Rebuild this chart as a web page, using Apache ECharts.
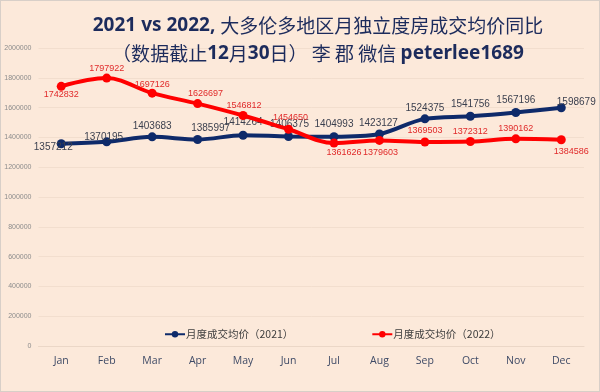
<!DOCTYPE html>
<html>
<head>
<meta charset="utf-8">
<script src="https://cdn.jsdelivr.net/npm/echarts@6/dist/echarts.min.js"></script>
<style>
html,body{margin:0;padding:0;background:#FCE9DA;}
#c{width:600px;height:392px;box-sizing:border-box;border:1px solid #D8CFC8;}
</style>
</head>
<body>
<div id="c"></div>
<script>
var months = ['Jan','Feb','Mar','Apr','May','Jun','Jul','Aug','Sep','Oct','Nov','Dec'];
var values2021 = [1357212,1370195,1403683,1385997,1414264,1406375,1404993,1423127,1524375,1541756,1567196,1598679];
var values2022 = [1742832,1797922,1697126,1626697,1546812,1454650,1361626,1379603,1369503,1372312,1390162,1384586];
var name2021 = '月度成交均价（2021）';
var name2022 = '月度成交均价（2022）';

// label placement offsets (style only)
var off2021 = [[-8,3],[-3,-5],[0,-11],[13,-11],[0,-13],[1,-12],[0,-12],[-1,-11],[0,-11],[0,-12],[0,-12],[15,-6]];
var off2022 = [[0,8],[0,-10],[0,-9],[8,-10],[1,-10],[2,-12],[10,9],[1,12],[0,-11],[0,-10],[0,-10],[10,12]];

function buildData(vals, offs) {
  return vals.map(function (v, i) {
    return { value: v, label: { offset: offs[i] } };
  });
}

var chart = echarts.init(document.getElementById('c'));
var navy = '#0E2A6A';
var red = '#FF0000';
var option = {
  backgroundColor: '#FCE9DA',
  animation: false,
  title: {
    left: 312,
    top: 6,
    textAlign: 'center',
    text: '{b|2021 vs 2022, }{n|大多伦多地区月独立度房成交均价同比}\n{n|（数据截止}{b|12}{n|月}{b|30}{n|日） 李 郡 微信 }{b|peterlee1689}',
    textStyle: {
      lineHeight: 28,
      rich: {
        b: { fontFamily: 'Noto Sans', fontWeight: 'bold', fontSize: 19, color: '#1C2B5C', lineHeight: 28 },
        n: { fontFamily: 'Noto Sans CJK SC', fontWeight: 'normal', fontSize: 19, color: '#1C2B5C', lineHeight: 28 }
      }
    }
  },
  legend: {
    left: 158,
    top: 323,
    itemWidth: 20,
    itemHeight: 8,
    itemGap: 78,
    textStyle: { fontSize: 10.5, color: '#404040', fontFamily: 'Noto Sans CJK SC', padding: [0, 0, 0, -4] },
    data: [name2021, name2022]
  },
  grid: { left: 37.5, right: 15, top: 47, bottom: 45 },
  xAxis: {
    type: 'category',
    data: months,
    boundaryGap: true,
    axisLine: { lineStyle: { color: '#EBD7C7' } },
    axisTick: { show: false },
    axisLabel: { fontSize: 10.5, color: '#3E4A66', margin: 10, fontFamily: 'Open Sans' }
  },
  yAxis: {
    type: 'value',
    min: 0,
    max: 2000000,
    interval: 200000,
    axisLine: { show: false },
    axisTick: { show: false },
    axisLabel: { fontSize: 7, color: '#8C8C8C', margin: 7, formatter: function (v) { return String(v); } },
    splitLine: { lineStyle: { color: '#F2DECE' } }
  },
  series: [
    {
      name: name2021,
      type: 'line',
      smooth: 0.35,
      data: buildData(values2021, off2021),
      symbol: 'circle',
      symbolSize: 9,
      itemStyle: { color: navy },
      lineStyle: { color: navy, width: 4 },
      label: {
        show: true,
        position: 'inside',
        fontSize: 10,
        color: '#3A3F4E',
        fontFamily: 'Liberation Sans'
      },
      z: 3
    },
    {
      name: name2022,
      type: 'line',
      smooth: 0.35,
      data: buildData(values2022, off2022),
      symbol: 'circle',
      symbolSize: 9,
      itemStyle: { color: red },
      lineStyle: { color: red, width: 4 },
      label: {
        show: true,
        position: 'inside',
        fontSize: 9,
        color: '#E02A2A',
        fontFamily: 'Liberation Sans'
      },
      z: 4
    }
  ]
};
chart.setOption(option);
</script>
</body>
</html>
